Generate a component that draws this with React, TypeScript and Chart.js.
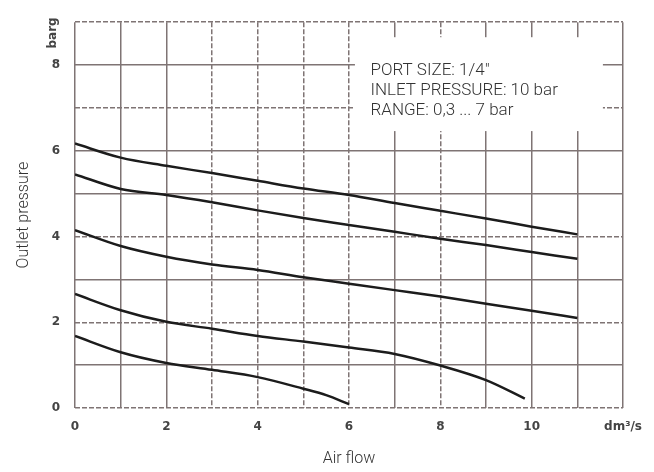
import React, { useEffect, useRef } from "react";
import { Chart, registerables } from "chart.js";

Chart.register(...registerables);

// Air flow (dm³/s) and outlet pressure (barg) for each curve
const flowA = [0, 1, 2, 3, 4, 5, 6, 7, 8, 9, 10, 11];
const pressure1 = [6.17, 5.84, 5.65, 5.48, 5.3, 5.12, 4.97, 4.78, 4.6, 4.42, 4.23, 4.05];
const pressure2 = [5.45, 5.11, 4.97, 4.8, 4.61, 4.43, 4.27, 4.11, 3.95, 3.8, 3.64, 3.48];
const pressure3 = [4.15, 3.78, 3.53, 3.35, 3.22, 3.05, 2.9, 2.75, 2.6, 2.43, 2.27, 2.1];
const flow4 = [0, 1, 2, 3, 4, 5, 6, 7, 8, 9, 9.85];
const pressure4 = [2.66, 2.28, 2.01, 1.85, 1.68, 1.55, 1.41, 1.26, 0.99, 0.65, 0.22];
const flow5 = [0, 1, 2, 3, 4, 5, 5.5, 6];
const pressure5 = [1.68, 1.3, 1.05, 0.89, 0.72, 0.45, 0.3, 0.09];

const xTickLabels = ["0", "", "2", "", "4", "", "6", "", "8", "", "10", "", "dm³/s"];
const yTickLabels = ["0", "", "2", "", "4", "", "6", "", "8", ""];
const yDashed = [0, 2, 4, 7, 9];
const xDashed = [3, 4, 5, 6, 8];

const infoLines = ['PORT SIZE: 1/4"', "INLET PRESSURE: 10 bar", "RANGE: 0,3 ... 7 bar"];

const toPoints = (xs: number[], ys: number[]) => xs.map((x, i) => ({ x, y: ys[i] }));

const GRID = "#7f7474";
const LINE = "#1c1c1c";

export default function App() {
  const ref = useRef<HTMLCanvasElement | null>(null);

  useEffect(() => {
    if (!ref.current) return;

    const overlay = {
      id: "overlay",
      beforeDatasetsDraw(chart: any) {
        const { ctx, scales } = chart;
        const xs = scales.x;
        const ys = scales.y;
        // white info box covering the grid
        const x0 = xs.getPixelForValue(6.13);
        const x1 = xs.getPixelForValue(11.56);
        const y0 = ys.getPixelForValue(8.65);
        const y1 = ys.getPixelForValue(6.46);
        ctx.save();
        ctx.fillStyle = "#ffffff";
        ctx.fillRect(x0, y0, x1 - x0, y1 - y0);
        ctx.fillStyle = "#333333";
        ctx.font = "300 17px Roboto";
        ctx.textBaseline = "middle";
        ctx.textAlign = "left";
        const tx = xs.getPixelForValue(6.47);
        infoLines.forEach((t, i) => {
          ctx.fillText(t, tx, ys.getPixelForValue(7.86) + i * 20);
        });
        ctx.restore();
      },
      afterDraw(chart: any) {
        const { ctx, scales } = chart;
        const ys = scales.y;
        ctx.save();
        ctx.translate(53, ys.getPixelForValue(8.75));
        ctx.rotate(-Math.PI / 2);
        ctx.fillStyle = "#444444";
        ctx.font = "bold 12px 'DejaVu Sans'";
        ctx.textAlign = "center";
        ctx.textBaseline = "middle";
        ctx.fillText("barg", 0, 0);
        ctx.restore();
      },
    };

    const mk = (xs: number[], ys: number[]) => ({
      data: toPoints(xs, ys),
      borderColor: LINE,
      borderWidth: 2.5,
      pointRadius: 0,
      cubicInterpolationMode: "monotone" as const,
      fill: false,
    });

    const chart = new Chart(ref.current, {
      type: "line",
      data: {
        datasets: [
          mk(flowA, pressure1),
          mk(flowA, pressure2),
          mk(flowA, pressure3),
          mk(flow4, pressure4),
          mk(flow5, pressure5),
        ],
      },
      options: {
        animation: false,
        responsive: false,
        devicePixelRatio: 1,
        layout: { padding: { top: 18, right: 31, left: 0, bottom: 0 } },
        plugins: { legend: { display: false }, tooltip: { enabled: false } },
        scales: {
          x: {
            type: "linear",
            min: 0,
            max: 12,
            afterFit: (s: any) => {
              s.height = 64;
            },
            ticks: {
              stepSize: 1,
              autoSkip: false,
              maxRotation: 0,
              padding: 12,
              color: "#444444",
              font: { family: "DejaVu Sans", size: 12, weight: "bold" },
              callback: (v: any) => xTickLabels[Math.round(v)] ?? "",
            },
            grid: {
              drawTicks: false,
              color: GRID,
              lineWidth: 1.5,
            },
            border: {
              display: false,
              dash: (c: any) => (c.tick && xDashed.includes(c.tick.value) ? [5, 2] : []),
            },
            title: {
              display: true,
              text: "Air flow",
              color: "#333333",
              font: { family: "Roboto", size: 16, weight: "300" },
              padding: { top: 0, bottom: 3 },
            },
          },
          y: {
            type: "linear",
            min: 0,
            max: 9,
            afterFit: (s: any) => {
              s.width = 75;
            },
            ticks: {
              stepSize: 1,
              autoSkip: false,
              padding: 15,
              color: "#444444",
              font: { family: "DejaVu Sans", size: 12, weight: "bold" },
              callback: (v: any) => yTickLabels[Math.round(v)] ?? "",
            },
            grid: {
              drawTicks: false,
              color: GRID,
              lineWidth: 1.5,
            },
            border: {
              display: false,
              dash: (c: any) => (c.tick && yDashed.includes(c.tick.value) ? [5, 2] : []),
            },
            title: {
              display: true,
              text: "Outlet pressure",
              color: "#333333",
              font: { family: "Roboto", size: 16, weight: "300" },
              padding: { top: 14, bottom: 0 },
            },
          },
        },
      },
      plugins: [overlay],
    });

    return () => chart.destroy();
  }, []);

  return (
    <div style={{ position: "absolute", left: 0, top: 0, width: 654, height: 472 }}>
      <canvas ref={ref} width={654} height={472} style={{ display: "block" }} />
    </div>
  );
}
